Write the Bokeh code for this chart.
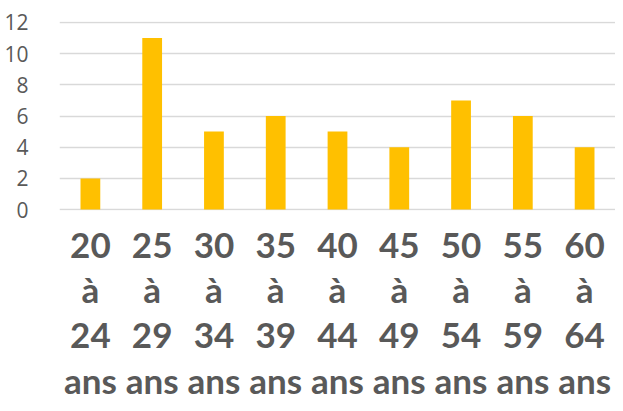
from bokeh.plotting import figure
from bokeh.models import FactorRange, Range1d, FixedTicker
from bokeh.embed import file_html
from bokeh.resources import INLINE

categories = ["20\nà\n24\nans", "25\nà\n29\nans", "30\nà\n34\nans", "35\nà\n39\nans",
              "40\nà\n44\nans", "45\nà\n49\nans", "50\nà\n54\nans", "55\nà\n59\nans",
              "60\nà\n64\nans"]
values = [2, 11, 5, 6, 5, 4, 7, 6, 4]
y_ticks = [0, 2, 4, 6, 8, 10, 12]

p = figure(x_range=FactorRange(*categories, range_padding=0),
           y_range=Range1d(-0.06, 12.06),
           width=615, height=403, output_backend="svg", toolbar_location=None,
           min_border_left=59, min_border_right=0, min_border_top=21, min_border_bottom=0)

p.vbar(x=categories, top=values, width=0.32, color="#FFC000", line_color=None)

p.outline_line_color = None
p.xgrid.grid_line_color = None
p.ygrid.grid_line_color = "#D9D9D9"
p.ygrid.grid_line_width = 1.5
p.yaxis.ticker = FixedTicker(ticks=y_ticks)

for ax in (p.xaxis, p.yaxis):
    ax.axis_line_color = None
    ax.major_tick_line_color = None
    ax.minor_tick_line_color = None
    ax.major_tick_out = 0
    ax.major_tick_in = 0
    ax.major_label_text_color = "#595959"

p.yaxis.major_label_text_font = "Open Sans"
p.yaxis.major_label_text_font_size = "21px"
p.yaxis.major_label_standoff = 31

p.xaxis.major_label_text_font = "Lato"
p.xaxis.major_label_text_font_style = "bold"
p.xaxis.major_label_text_font_size = "35px"
p.xaxis.major_label_text_line_height = 1.08
p.xaxis.major_label_standoff = 12
p.xaxis.group_text_font_size = "0px"

open("out.html", "w").write(file_html(p, INLINE))
